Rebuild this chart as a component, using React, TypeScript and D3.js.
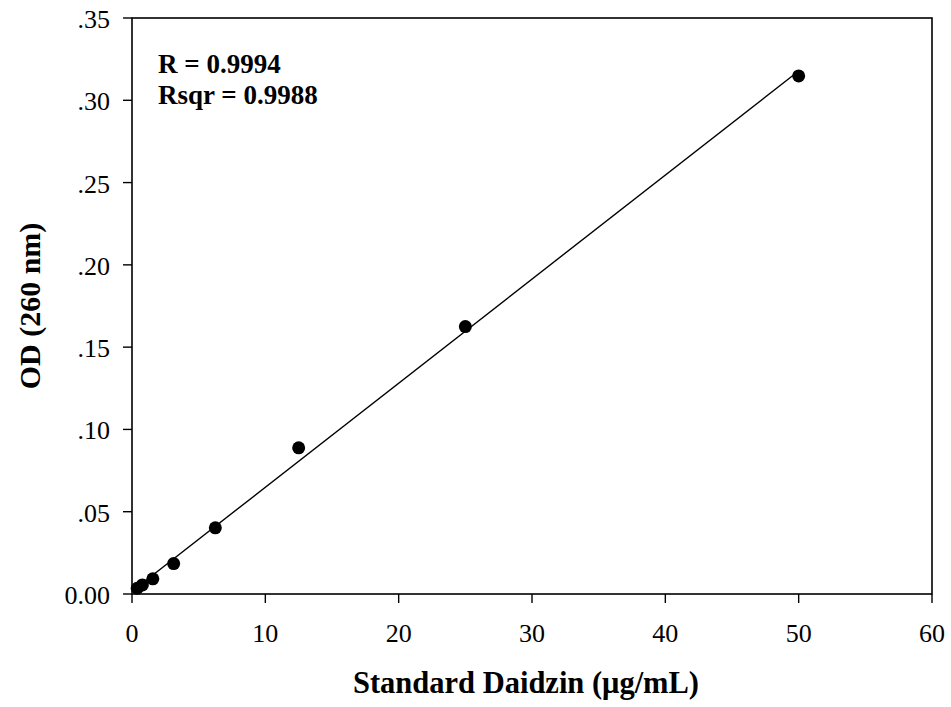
import React from "react";
import * as d3 from "d3";

const concentrations = [0.39, 0.78, 1.5625, 3.125, 6.25, 12.5, 25, 50];
const odValues = [0.0035, 0.0055, 0.0092, 0.0185, 0.0402, 0.0888, 0.1625, 0.3148];
const xTicks = [0, 10, 20, 30, 40, 50, 60];
const yTicks = [0, 0.05, 0.1, 0.15, 0.2, 0.25, 0.3, 0.35];
const yTickLabels = ["0.00", ".05", ".10", ".15", ".20", ".25", ".30", ".35"];
const annotations = ["R = 0.9994", "Rsqr = 0.9988"];

const W = 951, H = 707;
const left = 132, right = 932, top = 18, bottom = 594;
const font = "'Liberation Serif', 'Times New Roman', serif";

export default function App() {
  const x = d3.scaleLinear().domain([0, 60]).range([left, right]);
  const y = d3.scaleLinear().domain([0, 0.35]).range([bottom, top]);

  const mx = d3.mean(concentrations)!;
  const my = d3.mean(odValues)!;
  let sxy = 0, sxx = 0;
  concentrations.forEach((c, i) => { sxy += (c - mx) * (odValues[i] - my); sxx += (c - mx) ** 2; });
  const slope = sxy / sxx;
  const intercept = my - slope * mx;
  const x0 = d3.min(concentrations)!, x1 = d3.max(concentrations)!;
  const line = d3.line<number>().x(d => x(d)).y(d => y(intercept + slope * d));

  return (
    <svg width={W} height={H} style={{ position: "absolute", left: 0, top: 0 }}>
      <rect x={0} y={0} width={W} height={H} fill="white" />
      <rect x={left} y={top} width={right - left} height={bottom - top} fill="none" stroke="black" strokeWidth={1.6} />
      {xTicks.map(t => (
        <g key={"x" + t}>
          <line x1={x(t)} x2={x(t)} y1={bottom} y2={bottom + 9} stroke="black" strokeWidth={1.4} />
          <text x={x(t)} y={bottom + 48} textAnchor="middle" fontFamily={font} fontSize={26}>{t}</text>
        </g>
      ))}
      {yTicks.map((t, i) => (
        <g key={"y" + t}>
          <line x1={left - 9} x2={left} y1={y(t)} y2={y(t)} stroke="black" strokeWidth={1.4} />
          <text x={left - 22} y={y(t) + 10} textAnchor="end" fontFamily={font} fontSize={26}>{yTickLabels[i]}</text>
        </g>
      ))}
      <path d={line([x0, x1]) || ""} stroke="black" strokeWidth={1.4} fill="none" />
      {concentrations.map((c, i) => (
        <circle key={i} cx={x(c)} cy={y(odValues[i])} r={6.5} fill="black" />
      ))}
      {annotations.map((a, i) => (
        <text key={a} x={158} y={73 + i * 30.5} fontFamily={font} fontSize={27} fontWeight="bold">{a}</text>
      ))}
      <text x={526} y={693} textAnchor="middle" fontFamily={font} fontSize={30.5} fontWeight="bold">Standard Daidzin (μg/mL)</text>
      <text transform={`translate(40, ${(top + bottom) / 2}) rotate(-90)`} textAnchor="middle" fontFamily={font} fontSize={30} fontWeight="bold">OD (260 nm)</text>
    </svg>
  );
}
